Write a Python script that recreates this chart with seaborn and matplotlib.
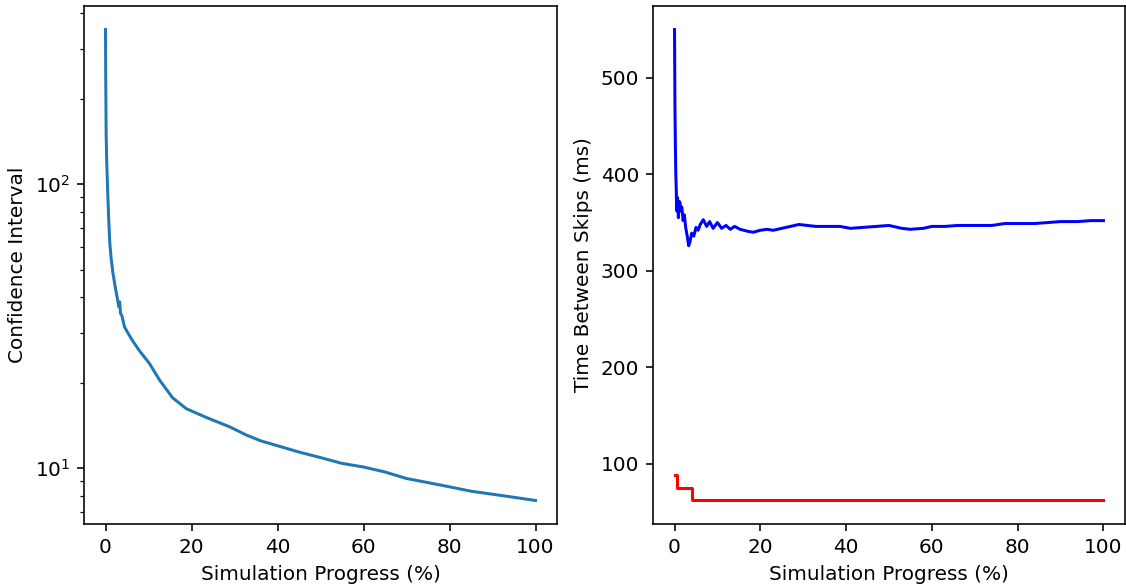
import matplotlib
matplotlib.use("Agg")
import matplotlib.pyplot as plt
import seaborn as sns

# Left panel: confidence interval vs. progress (log scale)
ci_progress = [0, 0.05, 0.15, 0.3, 0.5, 0.75, 1.0, 1.3, 1.7, 2.2, 2.7, 3.1, 3.3, 3.5, 3.8,
               4.4, 5.0, 6.3, 7.9, 10.2, 12.6, 15.6, 18.8, 23.4, 28.8, 32.7, 36, 40, 45,
               50, 55, 60, 65, 70, 75, 80, 85, 90, 95, 100]
ci_values = [350, 240, 150, 118, 95, 75, 62, 55, 49, 44, 40, 37, 38.5, 35, 34.5,
             31.5, 30.3, 28.1, 25.9, 23.4, 20.4, 17.7, 16.2, 15.1, 14.0, 13.1, 12.5, 12.0, 11.4,
             10.9, 10.4, 10.1, 9.7, 9.2, 8.9, 8.6, 8.3, 8.1, 7.9, 7.7]

# Right panel: mean time between skips (blue) and minimum (red)
skip_progress = [0, 0.1, 0.2, 0.3, 0.4, 0.5, 0.7, 0.9, 1.1, 1.3, 1.5, 1.7, 2.0, 2.3, 2.6,
                 3.0, 3.3, 3.6, 4.0, 4.5, 5.0, 5.5, 6.0, 6.7, 7.5, 8.2, 9.0, 10.0, 11.0,
                 12.0, 13.0, 14.0, 15.3, 17.0, 18.4, 20.0, 21.6, 23.0, 25.0, 27.0, 29.0,
                 31.0, 33.0, 35.0, 38.6, 41.0, 44.0, 47.0, 50.0, 53.0, 55.0, 58.0, 60.0,
                 63.0, 66.0, 70.0, 74.0, 77.0, 80.0, 84.0, 87.0, 90.0, 94.0, 97.0, 100.0]
skip_mean = [550, 470, 430, 400, 385, 362, 376, 355, 372, 370, 362, 366, 352, 358, 345,
             335, 326, 330, 339, 336, 345, 342, 348, 353, 346, 351, 344, 350, 344,
             347, 343, 346, 343, 341, 340, 342, 343, 342, 344, 346, 348,
             347, 346, 346, 346, 344, 345, 346, 347, 344, 343, 344, 346,
             346, 347, 347, 347, 349, 349, 349, 350, 351, 351, 352, 352]

min_progress = [0, 0.55, 4.1, 100]
skip_min = [88, 75, 62, 62]

fig = plt.figure(figsize=(1126 / 144, 584 / 144), dpi=144)
ax1 = fig.add_axes([0.0746, 0.1027, 0.4201, 0.887])
ax2 = fig.add_axes([0.580, 0.1027, 0.419, 0.887])

sns.lineplot(x=ci_progress, y=ci_values, ax=ax1, estimator=None, sort=False, color="#1f77b4")
ax1.set_yscale("log")
ax1.set_xlabel("Simulation Progress (%)")
ax1.set_ylabel("Confidence Interval")

sns.lineplot(x=skip_progress, y=skip_mean, ax=ax2, estimator=None, sort=False, color="b")
sns.lineplot(x=min_progress, y=skip_min, ax=ax2, estimator=None, sort=False, color="r",
             drawstyle="steps-post")
ax2.set_xlabel("Simulation Progress (%)")
ax2.set_ylabel("Time Between Skips (ms)")

fig.savefig("out.png", dpi=144)
